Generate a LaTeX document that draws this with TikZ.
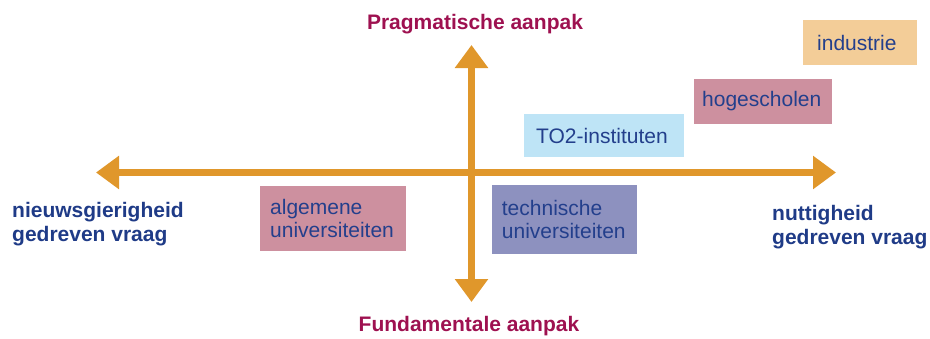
\documentclass[tikz,border=0pt]{standalone}
\usepackage{fontspec}
\setmainfont{Liberation Sans}
\usetikzlibrary{arrows.meta}
\definecolor{axisorange}{HTML}{E0972B}
\definecolor{maroontxt}{HTML}{9E1150}
\definecolor{bluetxt}{HTML}{1F3B87}
\definecolor{boxtxt}{HTML}{233F8C}
\definecolor{pinkbox}{HTML}{CD909F}
\definecolor{violetbox}{HTML}{8D91BF}
\definecolor{lightbluebox}{HTML}{BEE4F6}
\definecolor{sandbox}{HTML}{F3CD98}
\tikzset{
  axis/.style={draw=axisorange, line width=7pt, -{Triangle[length=23pt,width=32pt]}},
  polelabel/.style={font=\fontsize{21}{24}\selectfont\bfseries, text=maroontxt, inner sep=0pt},
  sidelabel/.style={font=\fontsize{21}{24}\selectfont\bfseries, text=bluetxt, inner sep=0pt, align=left},
  orgbox/.style={font=\fontsize{21}{22.5}\selectfont, text=boxtxt, inner ysep=0pt, align=left, anchor=west}
}
\begin{document}
\begin{tikzpicture}[x=1pt,y=-1pt]
\useasboundingbox (0,0) rectangle (930,338);
% axes
\coordinate (O) at (471.5,172.5);
\coordinate (L) at (96,172.5);
\coordinate (R) at (836,172.5);
\coordinate (T) at (471.5,45);
\coordinate (B) at (471.5,302);
\draw[axis] (O) -- (L);
\draw[axis] (O) -- (R);
\draw[axis] (O) -- (T);
\draw[axis] (O) -- (B);
% pole labels
\node[polelabel, anchor=base] (prag) at (475,29.5) {Pragmatische aanpak};
\node[polelabel, anchor=base] (fund) at (469,331.5) {Fundamentale aanpak};
\node[sidelabel, anchor=base west] (nieuws) at (12,241) {nieuwsgierigheid\\gedreven vraag};
\node[sidelabel, anchor=base west] (nut) at (772,244) {nuttigheid\\gedreven vraag};
% boxes
\node[orgbox, fill=pinkbox, inner xsep=10pt, text width=125.5pt, minimum height=64.5pt] (alg) at (260,218.4) {algemene\\universiteiten};
\node[orgbox, fill=violetbox, inner xsep=10pt, text width=125pt, minimum height=69pt] (tech) at (491.7,219.5) {technische\\universiteiten};
\node[orgbox, fill=lightbluebox, inner xsep=12pt, text width=136pt, minimum height=43pt] (to2) at (524,135.5) {TO2-instituten};
\node[orgbox, fill=pinkbox, inner xsep=8pt, text width=122pt, minimum height=45pt] (hog) at (694,101.5) {hogescholen};
\node[orgbox, fill=sandbox, inner xsep=14pt, text width=86pt, minimum height=45pt, text depth=0pt] (ind) at (803,42.5) {industrie};
\end{tikzpicture}
\end{document}
